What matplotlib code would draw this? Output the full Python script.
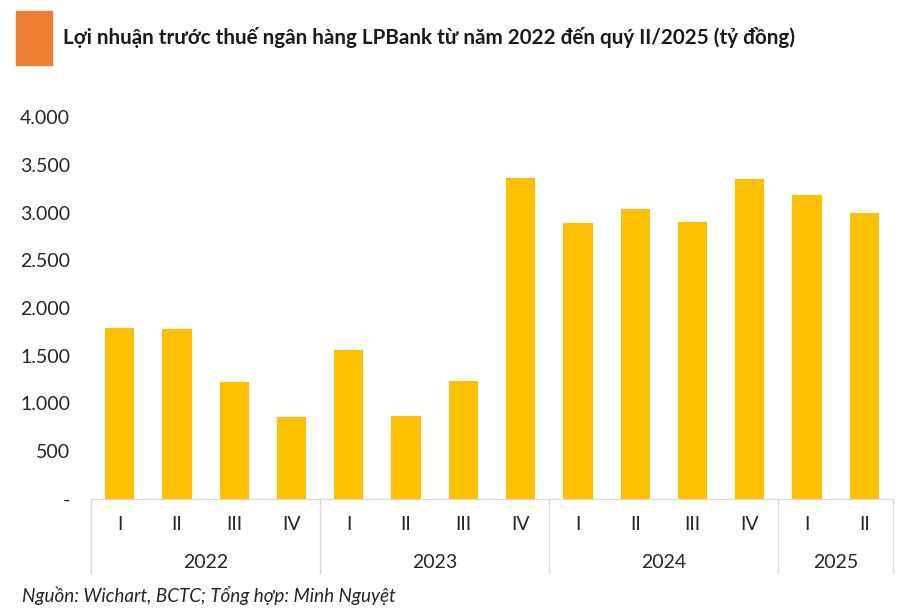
import matplotlib
matplotlib.use("Agg")
import matplotlib.pyplot as plt
from matplotlib.patches import Rectangle
from matplotlib.ticker import FuncFormatter

# Lợi nhuận trước thuế theo quý (tỷ đồng)
years = ["2022", "2023", "2024", "2025"]
quarters_per_year = [4, 4, 4, 2]
quarters = ["I", "II", "III", "IV", "I", "II", "III", "IV",
            "I", "II", "III", "IV", "I", "II"]
profit = [1795, 1785, 1228, 861, 1564, 871, 1239, 3360,
          2887, 3034, 2898, 3349, 3181, 2992]

plt.rcParams['font.family'] = ['Lato', 'DejaVu Sans']
txt = '#262626'
grid_col = '#d9d9d9'

fig = plt.figure(figsize=(9.07, 6.14), dpi=100)
ax = fig.add_axes([91/907, 1-499/614, 802/907, 382/614])

x = list(range(len(profit)))
ax.bar(x, profit, width=0.51, color='#FFC000')
ax.set_xlim(-0.5, len(profit)-0.5)
ax.set_ylim(0, 4000)
ax.set_yticks(range(0, 4001, 500))
ax.yaxis.set_major_formatter(FuncFormatter(
    lambda v, p: '-' if v == 0 else f'{int(v):,}'.replace(',', '.')))
ax.tick_params(axis='y', length=0, labelsize=14, labelcolor=txt, pad=15)
ax.set_xticks([])
for s in ['top', 'right', 'left']:
    ax.spines[s].set_visible(False)
ax.spines['bottom'].set_color(grid_col)

# trục phân cấp: quý / năm
tr = ax.get_xaxis_transform()
for i, q in enumerate(quarters):
    ax.text(i, -26/382, q, transform=tr, ha='center', va='center',
            fontsize=14, color=txt)
start = 0
bounds = [0]
for y, n in zip(years, quarters_per_year):
    ax.text(start + (n-1)/2, -64/382, y, transform=tr, ha='center',
            va='center', fontsize=14, color=txt)
    start += n
    bounds.append(start)
for b in bounds:
    ax.plot([b-0.5, b-0.5], [0, -74/382], transform=tr, color=grid_col,
            lw=1, clip_on=False)

# tiêu đề
fig.patches.append(Rectangle((16/907, 1-65/614), 36/907, 54/614,
                             transform=fig.transFigure, color='#ED7D31'))
fig.text(63/907, 1-37/614,
         'Lợi nhuận trước thuế ngân hàng LPBank từ năm 2022 đến quý II/2025 (tỷ đồng)',
         fontsize=14.9, fontweight='bold', color='#1a1a1a', va='center')
fig.text(22/907, 1-595/614, 'Nguồn: Wichart, BCTC; Tổng hợp: Minh Nguyệt',
         fontsize=13.6, fontstyle='italic', color=txt, va='center')

fig.savefig('out.png', dpi=100)
